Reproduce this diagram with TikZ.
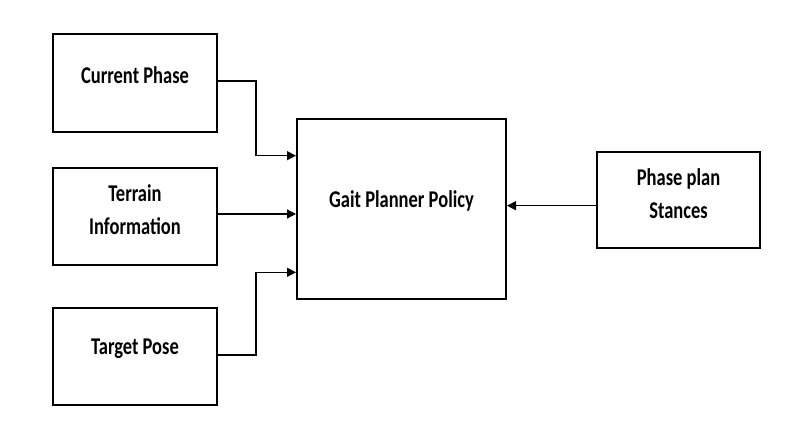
\documentclass[tikz,border=0pt]{standalone}
\usepackage{fontspec}
\setmainfont{Carlito}
\usetikzlibrary{arrows.meta}
\begin{document}
\begin{tikzpicture}[x=1pt,y=-1pt,
  box/.style={draw=black,line width=2pt,rectangle,inner sep=0pt,fill=white},
  lbl/.style={font=\bfseries\fontsize{18.5}{25.5}\selectfont,align=center,yshift=8pt,yscale=1.3,transform shape},
  conn/.style={draw=black,line width=1.3pt,-{Triangle[length=9pt,width=9pt]}}]
\useasboundingbox[fill=white] (0,0) rectangle (805,437);
\node[box,minimum width=164pt,minimum height=98pt,label={[lbl]center:Current Phase}] (cp) at (135,83) {};
\node[box,minimum width=164pt,minimum height=97pt,label={[lbl,yshift=-1pt]center:Terrain\\Information}] (ti) at (135,216.5) {};
\node[box,minimum width=164pt,minimum height=97pt,label={[lbl]center:Target Pose}] (tp) at (135,356.5) {};
\node[box,minimum width=209pt,minimum height=180pt,label={[lbl]center:Gait Planner Policy}] (gp) at (401.5,209) {};
\node[box,minimum width=163pt,minimum height=96pt,label={[lbl,yshift=-1.5pt]center:Phase plan\\Stances}] (pp) at (678.5,200) {};
\coordinate (cpb) at (256,81);
\coordinate (tpb) at (256,355);
\draw[conn] (cp.east |- cpb) -- (cpb) |- (gp.west |- 0,155.7);
\draw[conn] (ti.east |- 0,214) -- (gp.west |- 0,214);
\draw[conn] (tp.east |- tpb) -- (tpb) |- (gp.west |- 0,272.3);
\draw[conn] (pp.west |- 0,205.7) -- (gp.east |- 0,205.7);
\end{tikzpicture}
\end{document}
